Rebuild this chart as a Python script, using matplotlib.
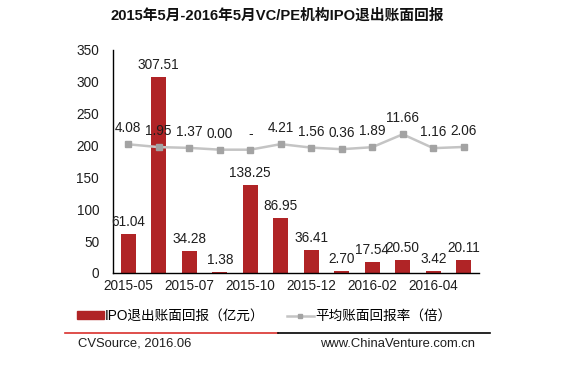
import matplotlib
matplotlib.use("Agg")
import matplotlib.pyplot as plt
from matplotlib.lines import Line2D
from matplotlib.patches import Patch

plt.rcParams['font.family'] = ['Liberation Sans', 'Noto Sans CJK SC', 'DejaVu Sans']

categories = ['2015-05', '2015-06', '2015-07', '2015-08', '2015-10', '2015-11',
              '2015-12', '2016-01', '2016-02', '2016-03', '2016-04', '2016-05']
ipo_return = [61.04, 307.51, 34.28, 1.38, 138.25, 86.95, 36.41, 2.70, 17.54, 20.50, 3.42, 20.11]
avg_rate = [4.08, 1.95, 1.37, 0.00, 0.00, 4.21, 1.56, 0.36, 1.89, 11.66, 1.16, 2.06]
avg_rate_labels = ['4.08', '1.95', '1.37', '0.00', '-', '4.21', '1.56', '0.36', '1.89', '11.66', '1.16', '2.06']
y_ticks = [0, 50, 100, 150, 200, 250, 300, 350]

title = '2015年5月-2016年5月VC/PE机构IPO退出账面回报'
bar_name = 'IPO退出账面回报（亿元）'
line_name = '平均账面回报率（倍）'

BAR_C = '#B02426'
LINE_C = '#C4C4C4'
MARK_C = '#A3A3A3'
TXT_C = '#1E1E1E'
FS = 9.8

fig = plt.figure(figsize=(5.72, 3.71), dpi=100)
ax = fig.add_axes([113/572, 1-273/371, (479-113)/572, (273-50)/371])
x = list(range(len(categories)))
ax.bar(x, ipo_return, width=0.5, color=BAR_C, zorder=2)
ax.set_xlim(-0.5, len(categories)-0.5)
ax.set_ylim(0, 350)
ax.set_yticks(y_ticks)
ax.set_xticks(x[::2])
ax.set_xticklabels(categories[::2])
ax.tick_params(axis='y', length=0, labelsize=FS, colors=TXT_C, pad=10)
ax.tick_params(axis='x', length=0, labelsize=FS, colors=TXT_C, pad=4)
for s in ['top', 'right']:
    ax.spines[s].set_visible(False)
for s in ['left', 'bottom']:
    ax.spines[s].set_color('black')
    ax.spines[s].set_linewidth(1.0)
for xi, v in zip(x, ipo_return):
    ax.annotate(f'{v:.2f}', (xi, v), xytext=(0, 3.5), textcoords='offset points',
                ha='center', va='bottom', fontsize=FS, color=TXT_C, zorder=5)

ax2 = ax.twinx()
ax2.set_ylim(-93.4, 75.5)
ax2.axis('off')
ax2.plot(x, avg_rate, color=LINE_C, lw=1.8, marker='s', markersize=4.5,
         markerfacecolor=MARK_C, markeredgecolor=MARK_C, zorder=3)
for xi, v, lab in zip(x, avg_rate, avg_rate_labels):
    ax2.annotate(lab, (xi, v), xytext=(0, 6.5), textcoords='offset points',
                 ha='center', va='bottom', fontsize=FS, color=TXT_C)

fig.text(277/572, 1-16/371, title, ha='center', va='center', fontsize=10.6, fontweight='bold',
         color='#111111')

handles = [Patch(facecolor=BAR_C, edgecolor=BAR_C),
           Line2D([0], [0], color=LINE_C, lw=1.8, marker='s', markersize=3.5,
                  markerfacecolor=MARK_C, markeredgecolor=MARK_C)]
fig.legend(handles, [bar_name, line_name], loc='center', bbox_to_anchor=(264/572, 1-316/371),
           ncol=2, frameon=False, fontsize=FS, handlelength=2.0, handleheight=0.45,
           handletextpad=0.1, columnspacing=1.6)

fig.add_artist(Line2D([65/572, 278/572], [1-333/371, 1-333/371], color='#D9302C', lw=1.2))
fig.add_artist(Line2D([278/572, 490/572], [1-333/371, 1-333/371], color='black', lw=1.2))
fig.text(78/572, 1-344/371, 'CVSource, 2016.06', ha='left', va='center', fontsize=9.4, color=TXT_C)
fig.text(475/572, 1-344/371, 'www.ChinaVenture.com.cn', ha='right', va='center', fontsize=9.4,
         color=TXT_C)

fig.savefig('out.png', dpi=100)
